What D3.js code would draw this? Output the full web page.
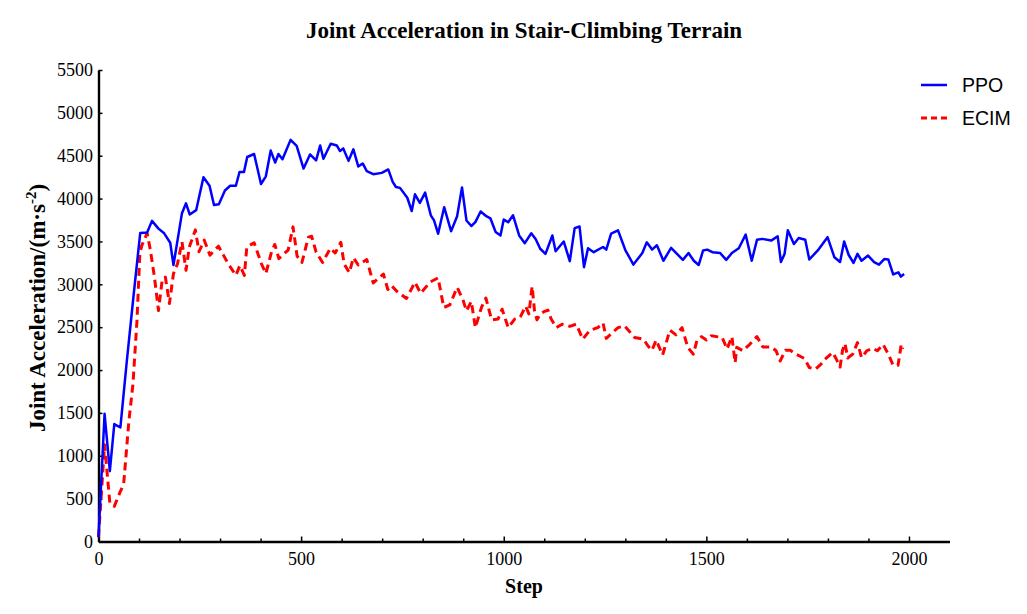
<!DOCTYPE html>
<html><head><meta charset="utf-8">
<script src="https://cdn.jsdelivr.net/npm/d3@7"></script>
<style>body{margin:0;background:#fff}</style>
</head><body><svg id="c" width="1027" height="614"></svg>
<script>
const ppoSteps = [0,15,28,39,54,70,87,103,120,132,148,162,177,185,206,216,225,241,259,274,285,297,312,325,339,348,359,367,384,401,413,425,436,444,454,474,489,506,522,537,547,555,573,588,596,604,617,629,641,652,662,678,699,715,726,734,744,762,773,781,793,806,820,828,838,853,870,885,897,908,920,930,943,957,967,980,992,1000,1011,1023,1038,1052,1068,1079,1090,1103,1120,1128,1148,1163,1175,1187,1198,1208,1222,1245,1253,1265,1282,1300,1320,1342,1353,1366,1378,1394,1413,1442,1456,1469,1481,1492,1502,1515,1534,1549,1563,1580,1597,1612,1625,1638,1660,1676,1684,1693,1701,1716,1728,1744,1754,1775,1799,1816,1830,1840,1851,1863,1873,1883,1899,1914,1926,1939,1949,1961,1974,1980,1988];
const ppoValues = [50,1490,820,1370,1330,2110,2890,3600,3605,3740,3650,3595,3485,3225,3830,3945,3815,3865,4250,4150,3925,3935,4095,4150,4150,4310,4310,4485,4520,4170,4260,4560,4420,4520,4460,4685,4615,4350,4515,4445,4620,4465,4640,4620,4555,4585,4440,4575,4375,4410,4320,4285,4300,4340,4195,4135,4125,4010,3855,4050,3950,4070,3805,3745,3590,3900,3620,3795,4130,3745,3680,3725,3850,3795,3770,3610,3570,3755,3725,3805,3570,3480,3595,3525,3415,3355,3570,3385,3500,3270,3655,3675,3200,3420,3375,3435,3405,3590,3630,3400,3230,3365,3490,3405,3455,3275,3425,3285,3365,3275,3225,3395,3405,3375,3365,3285,3365,3420,3580,3275,3520,3530,3510,3560,3260,3355,3630,3470,3540,3520,3290,3395,3550,3315,3260,3500,3345,3250,3355,3275,3335,3260,3230,3295,3290,3115,3140,3090,3120];
const ecimSteps = [0,15,28,39,54,62,75,85,95,102,107,120,128,138,148,157,165,175,185,195,206,216,224,239,248,261,275,296,320,339,349,360,366,384,402,413,427,435,445,468,480,490,502,518,526,537,553,572,584,598,606,619,629,641,662,678,688,703,714,723,736,760,781,795,818,838,852,867,885,900,908,920,930,945,956,970,986,996,1011,1027,1041,1054,1062,1070,1076,1082,1090,1101,1109,1117,1130,1144,1163,1179,1195,1212,1232,1245,1253,1269,1282,1298,1323,1345,1356,1366,1376,1392,1410,1425,1440,1454,1468,1477,1488,1500,1512,1525,1539,1551,1563,1571,1575,1590,1607,1625,1639,1660,1672,1682,1695,1707,1721,1742,1754,1769,1783,1795,1812,1821,1830,1836,1842,1849,1861,1873,1883,1896,1910,1922,1936,1949,1961,1973,1981,1985];
const ecimValues = [50,1130,450,410,585,665,1405,1835,2580,3360,3455,3595,3400,3085,2695,3045,3085,2775,3125,3240,3495,3165,3435,3635,3380,3515,3340,3445,3240,3105,3220,3105,3435,3485,3240,3125,3380,3465,3300,3400,3670,3330,3255,3550,3560,3375,3255,3420,3365,3490,3240,3135,3310,3225,3290,3015,3060,3120,2940,2985,2920,2835,3025,2895,3025,3075,2730,2760,2965,2810,2690,2800,2495,2730,2840,2585,2595,2710,2495,2595,2620,2745,2655,2975,2690,2585,2655,2685,2700,2595,2495,2535,2510,2535,2360,2460,2495,2550,2370,2440,2495,2515,2380,2360,2280,2230,2350,2175,2465,2410,2495,2265,2185,2350,2390,2350,2400,2390,2380,2245,2390,2085,2265,2225,2300,2390,2270,2270,2225,2105,2230,2230,2185,2135,2030,2010,2070,2135,2205,2125,2035,2230,2310,2140,2185,2320,2145,2225,2255,2225,2300,2185,2055,2055,2300,2245];
const xMajorTicks = [0,500,1000,1500,2000];
const xMinorTicks = [100,200,300,400,600,700,800,900,1100,1200,1300,1400,1600,1700,1800,1900];
const yTicks = [0,500,1000,1500,2000,2500,3000,3500,4000,4500,5000,5500];
const seriesNames = ["PPO","ECIM"];

const svg = d3.select("#c");
const serif = "'Liberation Serif','Times New Roman',serif";
const sans = "'Liberation Sans',Arial,sans-serif";
const x = d3.scaleLinear().domain([0,2100]).range([98.5,949.5]);
const y = d3.scaleLinear().domain([0,5500]).range([541.5,70]);
const fmt = d3.format("d");

// minor x ticks
const gMinor = svg.append("g").attr("transform","translate(0,541.5)")
  .call(d3.axisBottom(x).tickValues(xMinorTicks).tickFormat("").tickSizeInner(-3).tickSizeOuter(0));
gMinor.select(".domain").remove();
gMinor.selectAll("line").attr("stroke","#000").attr("stroke-width",1.5);

const gx = svg.append("g").attr("transform","translate(0,541.5)")
  .call(d3.axisBottom(x).tickValues(xMajorTicks).tickFormat(fmt).tickSizeInner(-5).tickSizeOuter(0).tickPadding(11));
gx.select(".domain").attr("stroke","#000").attr("stroke-width",2.4);
gx.selectAll(".tick line").attr("stroke","#000").attr("stroke-width",1.5);
gx.selectAll("text").attr("font-family",serif).attr("font-size",18).attr("fill","#000");

const gy = svg.append("g").attr("transform","translate(98.5,0)")
  .call(d3.axisLeft(y).tickValues(yTicks).tickFormat(fmt).tickSizeInner(-4).tickSizeOuter(0).tickPadding(5.5));
gy.select(".domain").attr("stroke","#000").attr("stroke-width",2.4);
gy.selectAll(".tick line").attr("stroke","#000").attr("stroke-width",1.5);
gy.selectAll("text").attr("font-family",serif).attr("font-size",18).attr("fill","#000");

const line = d3.line().x(d=>x(d[0])).y(d=>y(d[1]));
const ppo = ppoSteps.map((s,i)=>[s,ppoValues[i]]);
const ecim = ecimSteps.map((s,i)=>[s,ecimValues[i]]);

svg.append("path").datum(ecim).attr("d",line).attr("fill","none")
  .attr("stroke","#ff0000").attr("stroke-width",3).attr("stroke-dasharray","8,5").attr("stroke-linejoin","round");
svg.append("path").datum(ppo).attr("d",line).attr("fill","none")
  .attr("stroke","#0000ff").attr("stroke-width",2.5).attr("stroke-linejoin","round");

// title
svg.append("text").attr("x",524).attr("y",38).attr("text-anchor","middle")
  .attr("font-family",serif).attr("font-weight","bold").attr("font-size",23).text("Joint Acceleration in Stair-Climbing Terrain");
// x label
svg.append("text").attr("x",524).attr("y",593).attr("text-anchor","middle")
  .attr("font-family",serif).attr("font-weight","bold").attr("font-size",20).text("Step");
// y label
const yl = svg.append("text").attr("transform","translate(45,308) rotate(-90)").attr("text-anchor","middle")
  .attr("font-family",serif).attr("font-weight","bold").attr("font-size",23);
yl.append("tspan").text("Joint Acceleration/(m·s");
yl.append("tspan").attr("dy",-9).attr("font-size",15).text("-2");
yl.append("tspan").attr("dy",9).text(")");

// legend
const legend = [
  {name: seriesNames[0], color:"#0000ff", dash:null, w:2.5, y:85},
  {name: seriesNames[1], color:"#ff0000", dash:"6,4", w:3, y:118}
];
legend.forEach(l=>{
  svg.append("line").attr("x1",921).attr("x2",947).attr("y1",l.y).attr("y2",l.y)
    .attr("stroke",l.color).attr("stroke-width",l.w).attr("stroke-dasharray",l.dash);
  svg.append("text").attr("x",962).attr("y",l.y+7).attr("font-family",sans).attr("font-size",19.5).text(l.name);
});
</script></body></html>
